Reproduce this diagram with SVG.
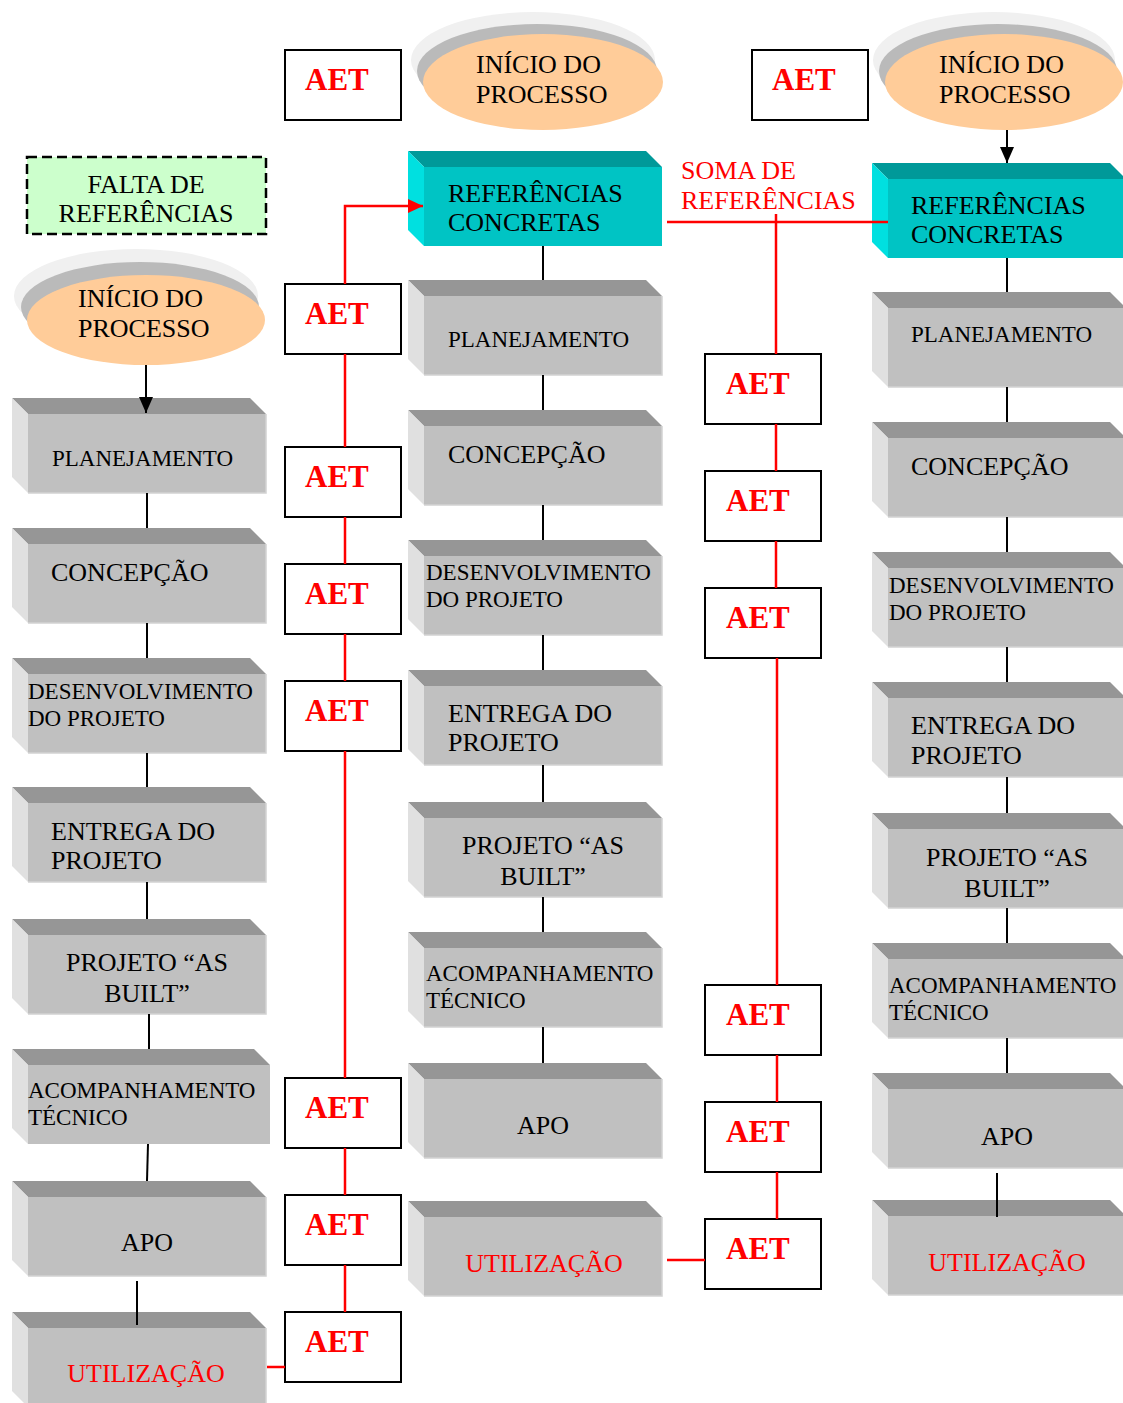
<svg xmlns="http://www.w3.org/2000/svg" xmlns:xlink="http://www.w3.org/1999/xlink" width="1123" height="1403" viewBox="0 0 1123 1403">
  <style>
    text { font-family: "Liberation Serif", "Times New Roman", serif; fill: #000; }
    .t26 { font-size: 26px; }
    .t23 { font-size: 23px; }
    .mid { text-anchor: middle; }
    .red { fill: #ff0000; }
    .aet-box { fill: #fff; stroke: #000; stroke-width: 2; }
    .aet { font-size: 31px; font-weight: bold; fill: #ff0000; }
    .blk { stroke: #000; stroke-width: 2; fill: none; }
    .rl { stroke: #ff0000; stroke-width: 2.5; fill: none; }
    .halo { fill: #f0f0f0; }
    .shade { fill: #bababa; }
    .oval { fill: #ffcc99; }
  </style>
  <defs>
    <!-- bevelled process block, origin at the back-left corner of the top face -->
    <g id="gbox">
      <polygon points="0,0 238,0 254,16 16,16" fill="#969696"/>
      <polygon points="0,0 16,16 16,95 0,79" fill="#e0e0e0"/>
      <rect x="16" y="16" width="238" height="79" fill="#c0c0c0"/>
      <path d="M254,16 V95 H16" fill="none" stroke="#d2d2d2" stroke-width="1.5"/>
    </g>
    <g id="cbox">
      <polygon points="0,0 238,0 254,16 16,16" fill="#009999"/>
      <polygon points="0,0 16,16 16,95 0,79" fill="#00e0e0"/>
      <rect x="16" y="16" width="238" height="79" fill="#00c4c4"/>
    </g>
    <marker id="ahB" viewBox="0 0 16 14" markerWidth="16" markerHeight="14" refX="16" refY="7" orient="auto" markerUnits="userSpaceOnUse">
      <path d="M0,0 L16,7 L0,14 Z" fill="#000"/>
    </marker>
    <marker id="ahR" viewBox="0 0 15 14" markerWidth="15" markerHeight="14" refX="15" refY="7" orient="auto" markerUnits="userSpaceOnUse">
      <path d="M0,0 L15,7 L0,14 Z" fill="#ff0000"/>
    </marker>
  </defs>

  <rect width="1123" height="1403" fill="#fff"/>

  <!-- ===== column 1 ===== -->
  <g id="falta-referencias">
    <rect x="27" y="157" width="239" height="77" fill="#ccffcc" stroke="#000" stroke-width="2.5" stroke-dasharray="10,5"/>
    <text class="t26 mid" x="146" y="193">FALTA DE</text>
    <text class="t26 mid" x="146" y="222">REFERÊNCIAS</text>
  </g>
  <g id="inicio-1">
    <ellipse class="halo" cx="136" cy="296" rx="122" ry="47"/>
    <ellipse class="shade" cx="140" cy="307" rx="119" ry="45"/>
    <ellipse class="oval" cx="146" cy="320" rx="119" ry="45"/>
    <text class="t26" x="78" y="307">INÍCIO DO</text>
    <text class="t26" x="78" y="337">PROCESSO</text>
  </g>
  <g id="c1-planejamento">
    <use xlink:href="#gbox" x="12" y="398"/>
    <text class="t23" x="52" y="466">PLANEJAMENTO</text>
  </g>
  <g id="c1-concepcao">
    <use xlink:href="#gbox" x="12" y="528"/>
    <text class="t26" x="51" y="581">CONCEPÇÃO</text>
  </g>
  <g id="c1-desenvolvimento">
    <use xlink:href="#gbox" x="12" y="658"/>
    <text class="t23" x="28" y="699">DESENVOLVIMENTO</text>
    <text class="t23" x="28" y="726">DO PROJETO</text>
  </g>
  <g id="c1-entrega">
    <use xlink:href="#gbox" x="12" y="787"/>
    <text class="t26" x="51" y="840">ENTREGA DO</text>
    <text class="t26" x="51" y="869">PROJETO</text>
  </g>
  <g id="c1-asbuilt">
    <use xlink:href="#gbox" x="12" y="919"/>
    <text class="t26 mid" x="147" y="971">PROJETO “AS</text>
    <text class="t26 mid" x="147" y="1002">BUILT”</text>
  </g>
  <g id="c1-acompanhamento">
    <polygon points="12,1049 254,1049 270,1065 28,1065" fill="#969696"/>
    <polygon points="12,1049 28,1065 28,1144 12,1128" fill="#e0e0e0"/>
    <rect x="28" y="1065" width="242" height="79" fill="#c0c0c0"/>
    <text class="t23" x="28" y="1098">ACOMPANHAMENTO</text>
    <text class="t23" x="28" y="1125">TÉCNICO</text>
  </g>
  <g id="c1-apo">
    <use xlink:href="#gbox" x="12" y="1181"/>
    <text class="t26 mid" x="147" y="1251">APO</text>
  </g>
  <g id="c1-utilizacao">
    <use xlink:href="#gbox" x="12" y="1312"/>
    <text class="t26 mid red" x="146" y="1382">UTILIZAÇÃO</text>
  </g>

  <!-- ===== AET boxes, first chain ===== -->
  <g id="aet-top-1"><rect class="aet-box" x="285" y="50" width="116" height="70"/><text class="aet" x="305" y="90">AET</text></g>
  <g id="aet-a1"><rect class="aet-box" x="285" y="284" width="116" height="70"/><text class="aet" x="305" y="324">AET</text></g>
  <g id="aet-a2"><rect class="aet-box" x="285" y="447" width="116" height="70"/><text class="aet" x="305" y="487">AET</text></g>
  <g id="aet-a3"><rect class="aet-box" x="285" y="564" width="116" height="70"/><text class="aet" x="305" y="604">AET</text></g>
  <g id="aet-a4"><rect class="aet-box" x="285" y="681" width="116" height="70"/><text class="aet" x="305" y="721">AET</text></g>
  <g id="aet-a5"><rect class="aet-box" x="285" y="1078" width="116" height="70"/><text class="aet" x="305" y="1118">AET</text></g>
  <g id="aet-a6"><rect class="aet-box" x="285" y="1195" width="116" height="70"/><text class="aet" x="305" y="1235">AET</text></g>
  <g id="aet-a7"><rect class="aet-box" x="285" y="1312" width="116" height="70"/><text class="aet" x="305" y="1352">AET</text></g>

  <!-- ===== column 2 ===== -->
  <g id="inicio-2">
    <ellipse class="halo" cx="533" cy="60" rx="122" ry="48"/>
    <ellipse class="shade" cx="537" cy="71" rx="120" ry="47"/>
    <ellipse class="oval" cx="543" cy="82" rx="120" ry="48"/>
    <text class="t26" x="476" y="73">INÍCIO DO</text>
    <text class="t26" x="476" y="103">PROCESSO</text>
  </g>
  <g id="c2-referencias">
    <use xlink:href="#cbox" x="408" y="151"/>
    <text class="t26" x="448" y="202">REFERÊNCIAS</text>
    <text class="t26" x="448" y="231">CONCRETAS</text>
  </g>
  <g id="c2-planejamento">
    <use xlink:href="#gbox" x="408" y="280"/>
    <text class="t23" x="448" y="347">PLANEJAMENTO</text>
  </g>
  <g id="c2-concepcao">
    <use xlink:href="#gbox" x="408" y="410"/>
    <text class="t26" x="448" y="463">CONCEPÇÃO</text>
  </g>
  <g id="c2-desenvolvimento">
    <use xlink:href="#gbox" x="408" y="540"/>
    <text class="t23" x="426" y="580">DESENVOLVIMENTO</text>
    <text class="t23" x="426" y="607">DO PROJETO</text>
  </g>
  <g id="c2-entrega">
    <use xlink:href="#gbox" x="408" y="670"/>
    <text class="t26" x="448" y="722">ENTREGA DO</text>
    <text class="t26" x="448" y="751">PROJETO</text>
  </g>
  <g id="c2-asbuilt">
    <use xlink:href="#gbox" x="408" y="802"/>
    <text class="t26 mid" x="543" y="854">PROJETO “AS</text>
    <text class="t26 mid" x="543" y="885">BUILT”</text>
  </g>
  <g id="c2-acompanhamento">
    <use xlink:href="#gbox" x="408" y="932"/>
    <text class="t23" x="426" y="981">ACOMPANHAMENTO</text>
    <text class="t23" x="426" y="1008">TÉCNICO</text>
  </g>
  <g id="c2-apo">
    <use xlink:href="#gbox" x="408" y="1063"/>
    <text class="t26 mid" x="543" y="1134">APO</text>
  </g>
  <g id="c2-utilizacao">
    <use xlink:href="#gbox" x="408" y="1201"/>
    <text class="t26 mid red" x="544" y="1272">UTILIZAÇÃO</text>
  </g>

  <g id="soma-referencias">
    <text class="t26 red" x="681" y="179">SOMA DE</text>
    <text class="t26 red" x="681" y="209">REFERÊNCIAS</text>
  </g>

  <!-- ===== AET boxes, second chain ===== -->
  <g id="aet-top-2"><rect class="aet-box" x="752" y="50" width="116" height="70"/><text class="aet" x="772" y="90">AET</text></g>
  <g id="aet-b1"><rect class="aet-box" x="705" y="354" width="116" height="70"/><text class="aet" x="726" y="394">AET</text></g>
  <g id="aet-b2"><rect class="aet-box" x="705" y="471" width="116" height="70"/><text class="aet" x="726" y="511">AET</text></g>
  <g id="aet-b3"><rect class="aet-box" x="705" y="588" width="116" height="70"/><text class="aet" x="726" y="628">AET</text></g>
  <g id="aet-b4"><rect class="aet-box" x="705" y="985" width="116" height="70"/><text class="aet" x="726" y="1025">AET</text></g>
  <g id="aet-b5"><rect class="aet-box" x="705" y="1102" width="116" height="70"/><text class="aet" x="726" y="1142">AET</text></g>
  <g id="aet-b6"><rect class="aet-box" x="705" y="1219" width="116" height="70"/><text class="aet" x="726" y="1259">AET</text></g>

  <!-- ===== column 3 ===== -->
  <g id="inicio-3">
    <ellipse class="halo" cx="994" cy="60" rx="121" ry="48"/>
    <ellipse class="shade" cx="998" cy="71" rx="119" ry="47"/>
    <ellipse class="oval" cx="1004" cy="82" rx="119" ry="48"/>
    <text class="t26" x="939" y="73">INÍCIO DO</text>
    <text class="t26" x="939" y="103">PROCESSO</text>
  </g>
  <g id="c3-referencias">
    <use xlink:href="#cbox" x="872" y="163"/>
    <text class="t26" x="911" y="214">REFERÊNCIAS</text>
    <text class="t26" x="911" y="243">CONCRETAS</text>
  </g>
  <g id="c3-planejamento">
    <use xlink:href="#gbox" x="872" y="292"/>
    <text class="t23" x="911" y="342">PLANEJAMENTO</text>
  </g>
  <g id="c3-concepcao">
    <use xlink:href="#gbox" x="872" y="422"/>
    <text class="t26" x="911" y="475">CONCEPÇÃO</text>
  </g>
  <g id="c3-desenvolvimento">
    <use xlink:href="#gbox" x="872" y="552"/>
    <text class="t23" x="889" y="593">DESENVOLVIMENTO</text>
    <text class="t23" x="889" y="620">DO PROJETO</text>
  </g>
  <g id="c3-entrega">
    <use xlink:href="#gbox" x="872" y="682"/>
    <text class="t26" x="911" y="734">ENTREGA DO</text>
    <text class="t26" x="911" y="764">PROJETO</text>
  </g>
  <g id="c3-asbuilt">
    <use xlink:href="#gbox" x="872" y="813"/>
    <text class="t26 mid" x="1007" y="866">PROJETO “AS</text>
    <text class="t26 mid" x="1007" y="897">BUILT”</text>
  </g>
  <g id="c3-acompanhamento">
    <use xlink:href="#gbox" x="872" y="943"/>
    <text class="t23" x="889" y="993">ACOMPANHAMENTO</text>
    <text class="t23" x="889" y="1020">TÉCNICO</text>
  </g>
  <g id="c3-apo">
    <use xlink:href="#gbox" x="872" y="1073"/>
    <text class="t26 mid" x="1007" y="1145">APO</text>
  </g>
  <g id="c3-utilizacao">
    <use xlink:href="#gbox" x="872" y="1200"/>
    <text class="t26 mid red" x="1007" y="1271">UTILIZAÇÃO</text>
  </g>

  <!-- ===== connectors ===== -->
  <g id="connectors">
    <!-- column 1 chain -->
    <line class="blk" x1="146" y1="365" x2="146" y2="413" marker-end="url(#ahB)"/>
    <line class="blk" x1="147" y1="493" x2="147" y2="528"/>
    <line class="blk" x1="147" y1="623" x2="147" y2="658"/>
    <line class="blk" x1="147" y1="753" x2="147" y2="787"/>
    <line class="blk" x1="147" y1="882" x2="147" y2="919"/>
    <line class="blk" x1="149" y1="1014" x2="149" y2="1049"/>
    <line class="blk" x1="148" y1="1144" x2="147" y2="1181"/>
    <line class="blk" x1="137" y1="1281" x2="137" y2="1325"/>
    <!-- column 2 chain -->
    <line class="blk" x1="543" y1="246" x2="543" y2="280"/>
    <line class="blk" x1="543" y1="375" x2="543" y2="410"/>
    <line class="blk" x1="543" y1="505" x2="543" y2="540"/>
    <line class="blk" x1="543" y1="635" x2="543" y2="670"/>
    <line class="blk" x1="543" y1="765" x2="543" y2="802"/>
    <line class="blk" x1="543" y1="897" x2="543" y2="932"/>
    <line class="blk" x1="543" y1="1027" x2="543" y2="1063"/>
    <!-- column 3 chain -->
    <line class="blk" x1="1007" y1="130" x2="1007" y2="163" marker-end="url(#ahB)"/>
    <line class="blk" x1="1007" y1="258" x2="1007" y2="292"/>
    <line class="blk" x1="1007" y1="387" x2="1007" y2="422"/>
    <line class="blk" x1="1007" y1="517" x2="1007" y2="552"/>
    <line class="blk" x1="1007" y1="647" x2="1007" y2="682"/>
    <line class="blk" x1="1007" y1="777" x2="1007" y2="813"/>
    <line class="blk" x1="1007" y1="908" x2="1007" y2="943"/>
    <line class="blk" x1="1007" y1="1038" x2="1007" y2="1073"/>
    <line class="blk" x1="997" y1="1173" x2="997" y2="1217"/>

    <!-- first AET chain, feeding the concrete references -->
    <polyline class="rl" points="345,284 345,206 423,206" marker-end="url(#ahR)"/>
    <line class="rl" x1="345" y1="354" x2="345" y2="447"/>
    <line class="rl" x1="345" y1="517" x2="345" y2="564"/>
    <line class="rl" x1="345" y1="634" x2="345" y2="681"/>
    <line class="rl" x1="345" y1="751" x2="345" y2="1078"/>
    <line class="rl" x1="345" y1="1148" x2="345" y2="1195"/>
    <line class="rl" x1="345" y1="1265" x2="345" y2="1312"/>
    <line class="rl" x1="267" y1="1367" x2="285" y2="1367"/>

    <!-- second AET chain, summing references -->
    <line class="rl" x1="667" y1="222" x2="888" y2="222"/>
    <line class="rl" x1="776" y1="214" x2="776" y2="354"/>
    <line class="rl" x1="776" y1="424" x2="776" y2="471"/>
    <line class="rl" x1="776" y1="541" x2="776" y2="588"/>
    <line class="rl" x1="777" y1="658" x2="777" y2="985"/>
    <line class="rl" x1="777" y1="1055" x2="777" y2="1102"/>
    <line class="rl" x1="777" y1="1172" x2="777" y2="1219"/>
    <line class="rl" x1="667" y1="1260" x2="705" y2="1260"/>
  </g>
</svg>
